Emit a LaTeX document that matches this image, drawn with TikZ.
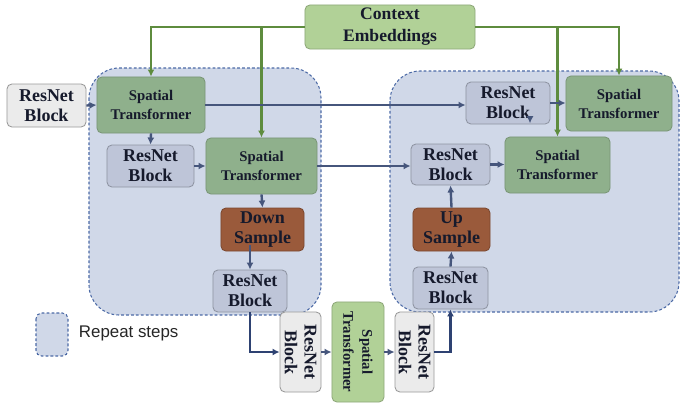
\documentclass[tikz,border=0pt]{standalone}
\usepackage{fontspec}
\setmainfont{Liberation Serif}
\setsansfont{Liberation Sans}
\usetikzlibrary{arrows.meta}

\definecolor{regionfill}{HTML}{D0D8E8}
\definecolor{regionline}{HTML}{4C6AA6}
\definecolor{outgray}{HTML}{EBEBEB}
\definecolor{resblue}{HTML}{BEC5D8}
\definecolor{stgreen}{HTML}{8FB08C}
\definecolor{ctxgreen}{HTML}{B1D197}
\definecolor{samplebrown}{HTML}{9A5A3B}
\definecolor{arrowblue}{HTML}{46567C}
\definecolor{pathnavy}{HTML}{2E4272}
\definecolor{linegreen}{HTML}{5E8C3E}
\definecolor{txtdark}{HTML}{161A2C}

\tikzset{
  blk/.style={rounded corners=3.5pt, line width=0.6pt, text=txtdark, align=center, inner sep=0pt},
  resnet/.style={blk, fill=resblue, draw=resblue!75!black, font=\fontsize{12.8}{14}\selectfont\bfseries},
  resout/.style={blk, fill=outgray, draw=outgray!65!black, font=\fontsize{12.8}{14}\selectfont\bfseries},
  spatial/.style={blk, fill=stgreen, draw=stgreen!85!black, font=\fontsize{10.5}{13.5}\selectfont\bfseries},
  sample/.style={blk, fill=samplebrown, draw=samplebrown!80!black, font=\fontsize{12.8}{14}\selectfont\bfseries},
  context/.style={blk, fill=ctxgreen, draw=ctxgreen!80!black},
  region/.style={fill=regionfill, draw=regionline, line width=0.75pt, dash pattern=on 2pt off 1.5pt},
  arr/.style={draw=arrowblue, line width=1.7pt, -{Latex[length=5pt,width=5pt]}},
  thickarr/.style={draw=pathnavy, line width=2.1pt, -{Latex[length=5pt,width=5pt]}},
  ctxline/.style={draw=linegreen, line width=1.7pt, -{Latex[length=5pt,width=5pt]}}
}

\begin{document}
\begin{tikzpicture}[x=0.025cm, y=-0.025cm]
                \useasboundingbox (0,0) rectangle (682,403);
                % repeat regions
                \draw [region, rounded corners=0.75cm] (89,68) rectangle (321,315);
                \draw [region, rounded corners=0.75cm] (390,71) rectangle (679,312);
                % legend
                \draw [region, rounded corners=4pt] (36,313) rectangle (68,356);
                \node (legend) at (74,333) [anchor=west, font=\sffamily\fontsize{12}{14}\selectfont, text=black!85] {Repeat steps};
                % context
                \node (ctx) at (390,27) [context, minimum width=4.25cm, minimum height=1.1cm, font=\fontsize{12.5}{15.5}\selectfont\bfseries] {Context\\Embeddings};
                % left side
                \node (rbIn) at (46.5,105.5) [resout, minimum width=1.975cm, minimum height=1.075cm] {ResNet\\Block};
                \node (st1) at (151,105) [spatial, minimum width=2.7cm, minimum height=1.4cm] {Spatial\\Transformer};
                \node (rb2) at (150.5,166) [resnet, minimum width=2.175cm, minimum height=1.05cm] {ResNet\\Block};
                \node (st2) at (261.5,166) [spatial, minimum width=2.775cm, minimum height=1.4cm] {Spatial\\Transformer};
                \node (down) at (262.5,229.5) [sample, minimum width=2.075cm, minimum height=1.075cm] {Down\\Sample};
                \node (rb3) at (250,291) [resnet, minimum width=1.85cm, minimum height=1.05cm] {ResNet\\Block};
                % bottom (rotated: south = left side, north = right side)
                \node (rb4) at (300.5,352) [resout, rotate=-90, minimum width=2cm, minimum height=1.025cm] {ResNet\\Block};
                \node (st3) at (358,352) [context, rotate=-90, minimum width=2.5cm, minimum height=1.3cm, font=\fontsize{10.5}{13.5}\selectfont\bfseries] {Spatial\\Transformer};
                \node (rb5) at (414.5,352) [resout, rotate=-90, minimum width=2cm, minimum height=0.975cm] {ResNet\\Block};
                % right side
                \node (rb6) at (450.5,288) [resnet, minimum width=1.875cm, minimum height=1.05cm] {ResNet\\Block};
                \node (up) at (451.5,229.5) [sample, minimum width=1.925cm, minimum height=1.075cm] {Up\\Sample};
                \node (rb7) at (450.5,164.5) [resnet, minimum width=1.975cm, minimum height=1.025cm] {ResNet\\Block};
                \node (st4) at (557.5,165) [spatial, minimum width=2.625cm, minimum height=1.4cm] {Spatial\\Transformer};
                \node (rb8) at (508,103) [resnet, minimum width=2.1cm, minimum height=1.05cm] {ResNet\\Block};
                \node (st5) at (619,103.5) [spatial, minimum width=2.65cm, minimum height=1.375cm] {Spatial\\Transformer};
                % context lines
                \draw [ctxline] (ctx.west) -| (st1.north);
                \draw [ctxline] (ctx.west -| st2.north) -- (st2.north);
                \draw [ctxline] (ctx.east) -| (st5.north);
                \draw [ctxline] (ctx.east -| st4.north) -- (st4.north);
                % down path
                \draw [arr] (rbIn.east) -- (st1.west);
                \draw [arr] (st1.south) -- (rb2.north);
                \draw [arr] (rb2.east) -- (st2.west);
                \draw [arr] (st2.south) -- (down.north);
                \draw [arr] ([yshift=0.15cm]down.south -| rb3.north) -- (rb3.north);
                % skip connections
                \draw [arr] (st1.east) -- (st1.east -| rb8.west);
                \draw [arr] (st2.east) -- (st2.east -| rb7.west);
                % middle
                \draw [thickarr] (rb3.south) |- (rb4.south);
                \draw [arr] (rb4.north) -- (st3.south);
                \draw [arr] (st3.north) -- (rb5.south);
                \draw [thickarr] (rb5.north) -| (rb6.south);
                % up path
                \draw [arr] (rb6.north) -- (up.south);
                \draw [arr] (up.north) -- (rb7.south);
                \draw [arr] (rb7.east) -- (rb7.east -| st4.west);
                \draw [arr] (rb8.east) -- (rb8.east -| st5.west);
                \draw [arr] ([xshift=0.55cm,yshift=0.2cm]rb8.south) -- ([xshift=0.55cm,yshift=0.03cm]rb8.south);
\end{tikzpicture}
\end{document}
